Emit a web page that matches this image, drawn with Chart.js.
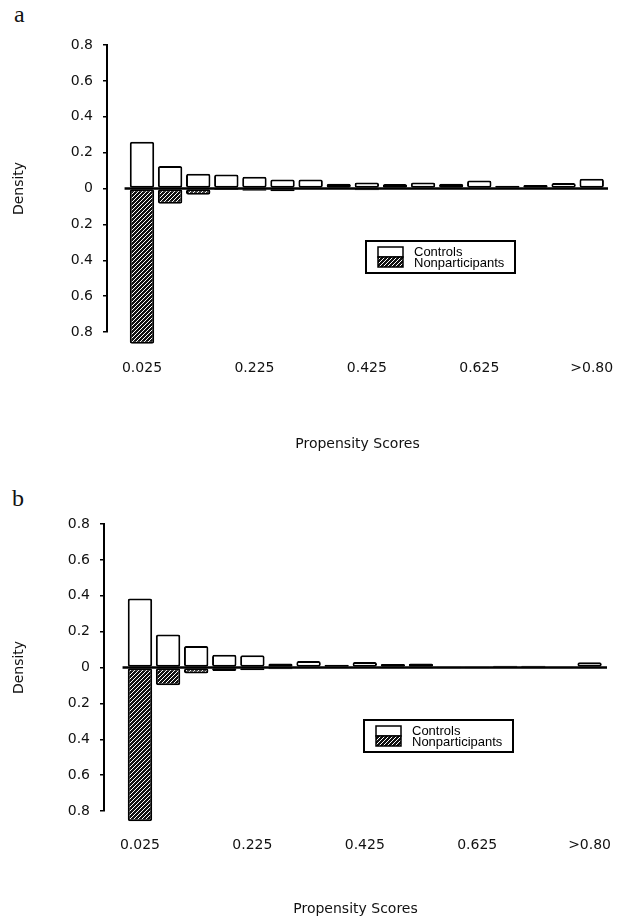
<!DOCTYPE html>
<html>
<head>
<meta charset="utf-8">
<script src="https://cdn.jsdelivr.net/npm/chart.js@4.4.1/dist/chart.umd.min.js"></script>
<style>
  body { margin: 0; background: #fff; }
  #page { position: relative; width: 623px; height: 918px; }
  .panel-label { position: absolute; font-family: "Liberation Serif", serif; font-size: 24px; line-height: 1; color: #111; }
  canvas { position: absolute; left: 0; }
</style>
</head>
<body>
<div id="page">
  <div class="panel-label" style="left:14px; top:2px;">a</div>
  <canvas id="chartA" width="623" height="459" style="top:0"></canvas>
  <div class="panel-label" style="left:12px; top:486px;">b</div>
  <canvas id="chartB" width="623" height="459" style="top:459px"></canvas>
</div>
<script>
// propensity score bins (0.05 wide), labelled every 4th bin
const xLabels = ['0.025', '0.075', '0.125', '0.175', '0.225', '0.275', '0.325', '0.375', '0.425',
                 '0.475', '0.525', '0.575', '0.625', '0.675', '0.725', '0.775', '>0.80'];
const shownTicks = [0, 4, 8, 12, 16];
const seriesNames = ['Controls', 'Nonparticipants'];

// panel a
const controlsA = [0.26, 0.125, 0.082, 0.078, 0.065, 0.05, 0.05, 0.027, 0.033, 0.025, 0.033, 0.027, 0.045, 0.015, 0.02, 0.03, 0.055];
const nonpartA = [0.865, 0.085, 0.035, 0.008, 0.012, 0.015, 0.006, 0.004, 0.01, 0.004, 0.004, 0.004, 0.004, 0.006, 0.004, 0.003, 0.003];

// panel b
const controlsB = [0.385, 0.184, 0.12, 0.071, 0.068, 0.022, 0.036, 0.016, 0.031, 0.02, 0.022, 0.006, 0.005, 0.01, 0.01, 0.003, 0.029];
const nonpartB = [0.857, 0.099, 0.033, 0.019, 0.015, 0.01, 0.005, 0.006, 0.004, 0.005, 0.005, 0.003, 0.003, 0.004, 0.003, 0.003, 0.003];

const FONT = '"DejaVu Sans", sans-serif';

function makeHatch() {
    const c = document.createElement('canvas');
    c.width = 4; c.height = 4;
    const g = c.getContext('2d');
    g.fillStyle = '#fff';
    g.fillRect(0, 0, 4, 4);
    g.fillStyle = '#111';
    for (let i = 0; i < 4; i++) {
        g.fillRect(i, 3 - i, 1, 1);
        g.fillRect((i + 1) % 4, 3 - i, 1, 1);
        g.fillRect(i, i, 1, 1);
        g.fillRect((i + 2) % 4, i, 1, 1);
    }
    return g.createPattern(c, 'repeat');
}
const hatch = makeHatch();

// thick zero line across the bins
const zeroLine = {
    id: 'zeroLine',
    afterDatasetsDraw(chart) {
        const { x, y } = chart.scales;
        const ctx = chart.ctx;
        const y0 = y.getPixelForValue(0);
        ctx.save();
        ctx.strokeStyle = '#000';
        ctx.lineWidth = 2.5;
        ctx.beginPath();
        ctx.moveTo(x.getPixelForValue(-0.62), y0);
        ctx.lineTo(chart.chartArea.right, y0);
        ctx.stroke();
        ctx.restore();
    }
};

// boxed legend inside the plot
const legendBox = {
    id: 'legendBox',
    afterDraw(chart, args, opts) {
        const ctx = chart.ctx;
        const l = opts.left, t = opts.top;
        ctx.save();
        ctx.fillStyle = '#fff';
        ctx.fillRect(l, t, 149, 32);
        ctx.strokeStyle = '#000';
        ctx.lineWidth = 2;
        ctx.strokeRect(l, t, 149, 32);
        ctx.lineWidth = 1.5;
        ctx.strokeRect(l + 12, t + 6, 25, 10);
        ctx.fillStyle = hatch;
        ctx.fillRect(l + 12, t + 16, 25, 10);
        ctx.strokeRect(l + 12, t + 16, 25, 10);
        ctx.fillStyle = '#000';
        ctx.font = '13px "Liberation Sans", Arial, sans-serif';
        ctx.textBaseline = 'middle';
        ctx.fillText(seriesNames[0], l + 48, t + 11);
        ctx.fillText(seriesNames[1], l + 48, t + 22);
        ctx.restore();
    }
};

function makePanel(id, controls, nonpart, g) {
    const ctx = document.getElementById(id);
    return new Chart(ctx, {
        type: 'bar',
        data: {
            datasets: [
                {
                    label: seriesNames[0],
                    data: controls.map((v, i) => ({ x: i, y: v })),
                    backgroundColor: '#fff',
                    borderColor: '#000',
                    borderWidth: 2,
                    borderSkipped: false,
                    borderRadius: 2,
                    grouped: false,
                    barPercentage: 0.87,
                    categoryPercentage: 1,
                    order: 1
                },
                {
                    label: seriesNames[1],
                    data: nonpart.map((v, i) => ({ x: i, y: -v })),
                    backgroundColor: hatch,
                    borderColor: '#000',
                    borderWidth: 2,
                    borderSkipped: false,
                    borderRadius: 2,
                    grouped: false,
                    barPercentage: 0.87,
                    categoryPercentage: 1,
                    clip: false,
                    order: 2
                }
            ]
        },
        options: {
            responsive: false,
            animation: false,
            layout: { padding: { top: g.top, right: g.right, left: 0, bottom: 0 } },
            plugins: {
                legend: { display: false },
                tooltip: { enabled: false },
                legendBox: { left: g.legendLeft, top: g.legendTop }
            },
            scales: {
                x: {
                    type: 'linear',
                    offset: false,
                    min: g.xMin,
                    max: g.xMax,
                    grid: { display: false, drawTicks: false },
                    border: { display: false },
                    afterBuildTicks: s => { s.ticks = shownTicks.map(v => ({ value: v })); },
                    afterFit: s => {
                        s.height = g.xHeight;
                        s.paddingLeft = 0;
                        s.paddingRight = 0;
                    },
                    ticks: {
                        autoSkip: false,
                        maxRotation: 0,
                        padding: g.tickPad,
                        color: '#111',
                        font: { family: FONT, size: 14 },
                        callback: v => xLabels[v]
                    },
                    title: {
                        display: true,
                        text: 'Propensity Scores',
                        color: '#111',
                        font: { family: FONT, size: 14 },
                        padding: { top: 0, bottom: g.titlePad }
                    }
                },
                y: {
                    min: -0.8,
                    max: 0.8,
                    afterFit: s => { s.width = g.axisX; },
                    grid: { drawOnChartArea: false, drawTicks: true, tickLength: 4, color: '#000', lineWidth: 1.5 },
                    border: { display: true, color: '#000', width: 2 },
                    ticks: {
                        stepSize: 0.2,
                        padding: 10,
                        color: '#111',
                        font: { family: FONT, size: 14 },
                        callback: v => Math.abs(v) < 1e-9 ? '0' : Math.abs(v).toFixed(1)
                    },
                    title: {
                        display: true,
                        text: 'Density',
                        color: '#111',
                        font: { family: FONT, size: 14 },
                        padding: { top: 11, bottom: 0 }
                    }
                }
            }
        },
        plugins: [zeroLine, legendBox]
    });
}

makePanel('chartA', controlsA, nonpartA, {
    top: 45, right: 15, axisX: 107, xHeight: 127, tickPad: 28, titlePad: 6.6,
    xMin: -1.245, xMax: 16.58, legendLeft: 366, legendTop: 241
});
makePanel('chartB', controlsB, nonpartB, {
    top: 65, right: 16, axisX: 104, xHeight: 107, tickPad: 26, titlePad: 0.6,
    xMin: -1.28, xMax: 16.62, legendLeft: 364, legendTop: 261
});
</script>
</body>
</html>
